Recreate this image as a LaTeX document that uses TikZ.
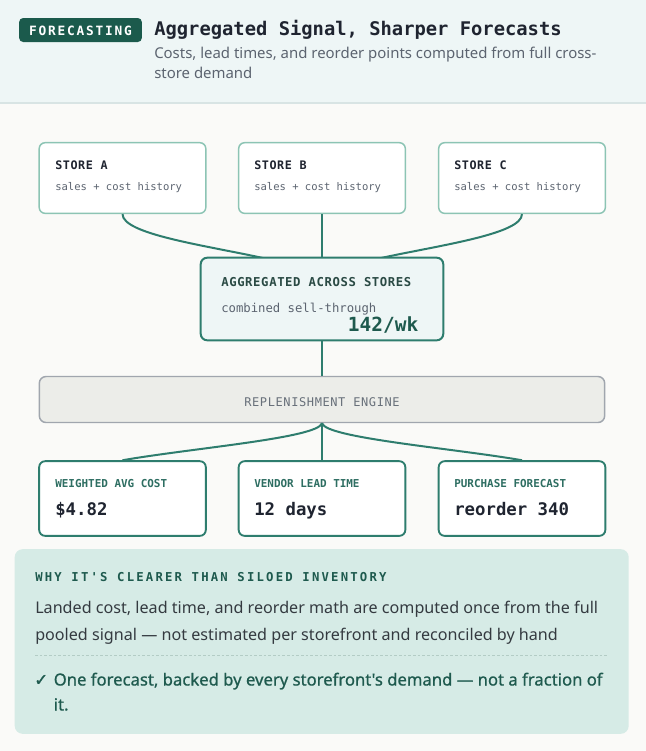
\documentclass[tikz,border=0pt]{standalone}
\usepackage{fontspec}
\newfontfamily\bodyfont{Noto Sans}
\newfontfamily\bodymed[FakeBold=0.8]{Noto Sans}
\newfontfamily\monofont{DejaVu Sans Mono}
\newfontfamily\monols[LetterSpace=14]{DejaVu Sans Mono}
\newfontfamily\monolsb[LetterSpace=18]{DejaVu Sans Mono}
\newfontfamily\monolsa[LetterSpace=5]{DejaVu Sans Mono}
\newfontfamily\symfont[FakeBold=1.2]{DejaVu Sans}
\definecolor{pagebg}{HTML}{FAFAF8}
\definecolor{headbg}{HTML}{EEF6F6}
\definecolor{headline}{HTML}{D8E4E4}
\definecolor{badge}{HTML}{1B5A4C}
\definecolor{ink}{HTML}{1F2430}
\definecolor{muted}{HTML}{5C6470}
\definecolor{storeborder}{HTML}{8CC4B4}
\definecolor{teal}{HTML}{2E7D6E}
\definecolor{darkteal}{HTML}{1E5A4E}
\definecolor{aggtitle}{HTML}{2A4A44}
\definecolor{engfill}{HTML}{ECEDE9}
\definecolor{engborder}{HTML}{A0A6AE}
\definecolor{engtext}{HTML}{68707A}
\definecolor{outtitle}{HTML}{2E6E62}
\definecolor{panelbg}{HTML}{D6EBE6}
\definecolor{bodyink}{HTML}{343A40}
\definecolor{dashc}{HTML}{B3CCC5}
\tikzset{
  txt/.style={inner sep=0pt, anchor=base west},
  storebox/.style={draw=storeborder, line width=1.1pt, fill=white, rounded corners=4.5pt, minimum width=125pt, minimum height=53pt, inner sep=0pt},
  outbox/.style={draw=teal, line width=1.4pt, fill=white, rounded corners=4.5pt, minimum width=125pt, minimum height=56pt, inner sep=0pt},
  link/.style={draw=teal, line width=1.5pt},
  storetitle/.style={txt, text=ink, font=\monolsa\bfseries\fontsize{8.8pt}{10pt}\selectfont},
  storesub/.style={txt, text=muted, font=\monofont\fontsize{7.9pt}{9pt}\selectfont},
  outtitlestyle/.style={txt, text=outtitle, font=\monofont\bfseries\fontsize{8.2pt}{10pt}\selectfont},
  outvalue/.style={txt, text=ink, font=\monofont\bfseries\fontsize{13pt}{15pt}\selectfont},
}
\begin{document}
\begin{tikzpicture}[x=0.75pt,y=-0.75pt]
\useasboundingbox (0,0) rectangle (646,751);
\fill[pagebg] (0,0) rectangle (646,751);
% header
\fill[headbg] (0,0) rectangle (646,103);
\draw[headline, line width=0.9pt] (0,103) -- (646,103);
\node[fill=badge, rounded corners=3pt, minimum width=92pt, minimum height=18pt, inner sep=0pt] (badge) at (80.5,30) {};
\node[text=white, font=\monols\bfseries\fontsize{9.6pt}{11pt}\selectfont, inner sep=0pt] (badgetxt) at (80.5,30.5) {FORECASTING};
\node[txt, text=ink, font=\monofont\bfseries\fontsize{14.1pt}{16pt}\selectfont] (title) at (154,35) {Aggregated Signal, Sharper Forecasts};
\node[txt, text=muted, font=\bodyfont\fontsize{11.2pt}{15pt}\selectfont] (sub1) at (154,58) {Costs, lead times, and reorder points computed from full cross-};
\node[txt, text=muted, font=\bodyfont\fontsize{11.2pt}{15pt}\selectfont] (sub2) at (154,78) {store demand};
% stores
\node[storebox] (sa) at (122.5,178) {};
\node[storebox] (sb) at (322,178) {};
\node[storebox] (sc) at (522,178) {};
\node[storetitle] (sat) at (55,169) {STORE A};
\node[storesub] (sas) at (55,190) {sales + cost history};
\node[storetitle] (sbt) at (254,169) {STORE B};
\node[storesub] (sbs) at (254,190) {sales + cost history};
\node[storetitle] (sct) at (454,169) {STORE C};
\node[storesub] (scs) at (454,190) {sales + cost history};
% aggregated
\coordinate (aggL) at (263,258);
\coordinate (aggR) at (381,258);
\draw[link] (sa.south) .. controls (122.5,234) and (203,245) .. (aggL);
\draw[link] (sc.south) .. controls (522,234) and (441,245) .. (aggR);
\node[draw=teal, line width=1.5pt, fill=headbg, rounded corners=5pt, minimum width=182pt, minimum height=62pt, inner sep=0pt] (agg) at (322,299) {};
\draw[link] (sb.south) -- (agg.north);
\node[txt, text=aggtitle, font=\monolsa\bfseries\fontsize{9.2pt}{11pt}\selectfont] (aggt) at (221,286) {AGGREGATED ACROSS STORES};
\node[txt, text=muted, font=\monofont\fontsize{9.2pt}{11pt}\selectfont] (aggs) at (221,312.5) {combined sell-through};
\node[inner sep=0pt, anchor=base east, text=darkteal, font=\monofont\bfseries\fontsize{14.6pt}{16pt}\selectfont] (aggv) at (418.5,331) {142/wk};
% engine
\node[draw=engborder, line width=1.1pt, fill=engfill, rounded corners=5pt, minimum width=424pt, minimum height=34.5pt, inner sep=0pt] (eng) at (322,399.5) {};
\draw[link] (agg.south) -- (eng.north);
\node[inner sep=0pt, anchor=base, text=engtext, font=\monolsa\fontsize{9pt}{11pt}\selectfont] (engt) at (322,406) {REPLENISHMENT ENGINE};
% outputs
\node[outbox] (oa) at (122.5,498.5) {};
\node[outbox] (ob) at (322,498.5) {};
\node[outbox] (oc) at (522,498.5) {};
\draw[link] (eng.south) .. controls (318,438) and (193,448) .. (oa.north);
\draw[link] (eng.south) .. controls (326,438) and (451,448) .. (oc.north);
\draw[link] (eng.south) -- (ob.north);
\node[outtitlestyle] (oat) at (55,487.3) {WEIGHTED AVG COST};
\node[outvalue] (oav) at (55,515) {\$4.82};
\node[outtitlestyle] (obt) at (254,487.3) {VENDOR LEAD TIME};
\node[outvalue] (obv) at (254,515) {12 days};
\node[outtitlestyle] (oct) at (454,487.3) {PURCHASE FORECAST};
\node[outvalue] (ocv) at (454,515) {reorder 340};
% panel
\node[fill=panelbg, rounded corners=6pt, minimum width=460.5pt, minimum height=138.5pt, inner sep=0pt] (panel) at (321.7,641.5) {};
\node[txt, text=darkteal, font=\monolsb\bfseries\fontsize{9.2pt}{11pt}\selectfont] (ph) at (35,581) {WHY IT'S CLEARER THAN SILOED INVENTORY};
\node[txt, text=bodyink, font=\bodyfont\fontsize{12.1pt}{20pt}\selectfont] (pb1) at (35,613.3) {Landed cost, lead time, and reorder math are computed once from the full};
\node[txt, text=bodyink, font=\bodyfont\fontsize{12.1pt}{20pt}\selectfont] (pb2) at (35,640) {pooled signal — not estimated per storefront and reconciled by hand};
\draw[dashc, line width=0.75pt, dash pattern=on 2pt off 1.5pt] (35,655) -- (609,655);
\node[txt, text=darkteal, font=\symfont\fontsize{12.5pt}{14pt}\selectfont] (ck) at (34,685.5) {✓};
\node[txt, text=darkteal, font=\bodymed\fontsize{12.5pt}{20pt}\selectfont] (pc1) at (53.5,685.5) {One forecast, backed by every storefront's demand — not a fraction of};
\node[txt, text=darkteal, font=\bodymed\fontsize{12.5pt}{20pt}\selectfont] (pc2) at (53.5,710.5) {it.};
\end{tikzpicture}
\end{document}
